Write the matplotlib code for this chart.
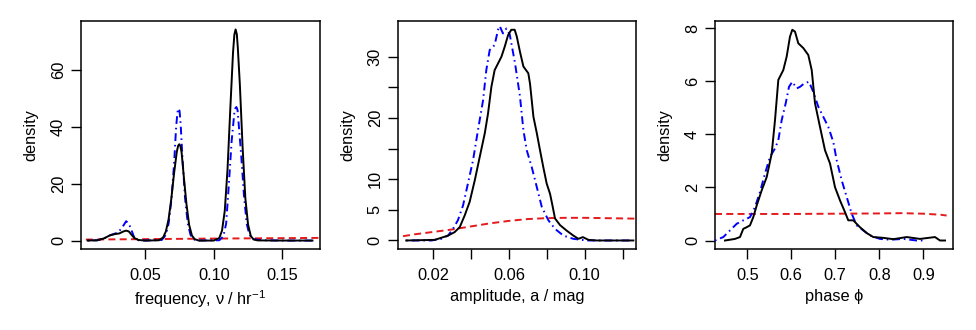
import matplotlib
matplotlib.use("Agg")
import matplotlib.pyplot as plt

plt.rcParams["font.family"] = ["Liberation Sans", "DejaVu Sans"]
plt.rcParams["mathtext.fontset"] = "custom"
plt.rcParams["mathtext.rm"] = "Liberation Sans"
plt.rcParams["mathtext.it"] = "Liberation Sans:italic"

# ---- frequency posterior densities ----
freq_black_x = [0.008, 0.015, 0.020, 0.024, 0.028, 0.031, 0.034, 0.036, 0.038, 0.040, 0.042, 0.045,
                0.050, 0.060, 0.063, 0.065, 0.067, 0.069, 0.071, 0.073, 0.0740, 0.0748, 0.0756,
                0.0765, 0.078, 0.080, 0.082, 0.084, 0.086, 0.089, 0.100, 0.104, 0.106, 0.108,
                0.110, 0.112, 0.114, 0.1150, 0.1159, 0.1168, 0.1175, 0.119, 0.121, 0.123, 0.125,
                0.127, 0.129, 0.132, 0.150, 0.172]
freq_black_y = [0.0, 0.1, 0.8, 1.8, 2.3, 2.5, 3.2, 3.5, 3.2, 2.0, 0.9, 0.2,
                0.0, 0.1, 1.1, 3.2, 7.5, 14.8, 23.7, 31.3, 33.4, 33.9, 33.3,
                31.0, 23.0, 13.0, 5.5, 1.8, 0.5, 0.0, 0.0, 0.9, 3.5, 10.5,
                25.0, 46.0, 66.0, 72.5, 74.3, 72.6, 68.0, 55.0, 33.0, 15.0, 5.6,
                1.6, 0.4, 0.05, 0.0, 0.0]

freq_blue_x = [0.008, 0.015, 0.020, 0.025, 0.030, 0.033, 0.036, 0.038, 0.040, 0.042, 0.045,
               0.050, 0.062, 0.065, 0.067, 0.069, 0.071, 0.0725, 0.0735, 0.0742, 0.0750,
               0.0758, 0.077, 0.079, 0.081, 0.083, 0.085, 0.088, 0.104, 0.107, 0.109, 0.111,
               0.113, 0.115, 0.1158, 0.1165, 0.1173, 0.118, 0.120, 0.122, 0.124, 0.126, 0.129,
               0.135, 0.150, 0.172]
freq_blue_y = [0.0, 0.1, 0.8, 2.0, 2.8, 4.5, 6.8, 6.0, 3.5, 1.0, 0.1,
               0.0, 0.2, 2.0, 6.0, 14.0, 27.0, 40.0, 45.2, 46.5, 45.6,
               41.0, 30.0, 15.0, 6.0, 2.0, 0.5, 0.0, 0.1, 1.5, 6.0, 20.0,
               35.0, 45.0, 46.6, 47.0, 46.0, 42.0, 30.0, 16.0, 6.0, 2.0, 0.5,
               0.1, 0.0, 0.0]

freq_prior_x = [0.0066, 0.05, 0.10, 0.15, 0.18]
freq_prior_y = [0.35, 0.5, 0.7, 0.85, 0.95]

# ---- amplitude posterior densities ----
amp_black_x = [0.0057, 0.0207, 0.0242, 0.0278, 0.0313, 0.034, 0.0366, 0.0392, 0.0419, 0.0445,
               0.0472, 0.0489, 0.0507, 0.0524, 0.056, 0.0577, 0.0595, 0.0612, 0.063, 0.0641,
               0.0658, 0.0676, 0.0702, 0.0711, 0.0729, 0.0747, 0.0764, 0.0781, 0.0799, 0.0817,
               0.0831, 0.0843, 0.087, 0.0905, 0.094, 0.0967, 0.099, 0.102, 0.1064, 0.1257]
amp_black_y = [0.0, 0.1, 0.44, 0.8, 1.37, 2.2, 4.1, 6.3, 9.8, 13.6,
               17.5, 20.7, 25.1, 27.8, 30.0, 31.6, 33.5, 34.4, 34.4, 33.3,
               30.8, 28.4, 27.3, 25.6, 20.2, 17.5, 14.7, 12.0, 9.3, 7.6,
               5.5, 3.6, 2.5, 1.6, 0.8, 0.27, 0.55, 0.1, 0.0, 0.0]

amp_blue_x = [0.0057, 0.019, 0.0242, 0.0278, 0.0304, 0.033, 0.0357, 0.0383, 0.041, 0.0436,
              0.0463, 0.048, 0.0498, 0.0524, 0.0542, 0.0551, 0.0568, 0.0586, 0.0604, 0.0632,
              0.0658, 0.0676, 0.0694, 0.072, 0.0747, 0.0773, 0.0808, 0.0843, 0.0887, 0.094,
              0.101, 0.1249]
amp_blue_y = [0.0, 0.0, 0.27, 0.8, 1.9, 3.3, 5.7, 9.3, 13.1, 18.0,
              22.9, 27.8, 31.1, 31.9, 34.4, 35.0, 33.8, 34.6, 33.6, 28.9,
              23.5, 18.0, 14.7, 12.0, 8.7, 5.5, 3.3, 1.9, 0.8, 0.27,
              0.0, 0.0]

amp_prior_x = [0.004, 0.01, 0.02, 0.03, 0.04, 0.05, 0.06, 0.07, 0.08, 0.09, 0.10, 0.11, 0.12, 0.13]
amp_prior_y = [0.7, 1.0, 1.4, 1.8, 2.3, 2.8, 3.2, 3.5, 3.65, 3.7, 3.7, 3.65, 3.6, 3.55]

# ---- phase posterior densities ----
ph_black_x = [0.4493, 0.472, 0.4834, 0.4909, 0.4986, 0.5061, 0.5136, 0.5214, 0.5327, 0.5441,
              0.5555, 0.563, 0.5705, 0.5818, 0.5895, 0.597, 0.6023, 0.6084, 0.6159, 0.6273,
              0.6386, 0.6464, 0.6539, 0.6652, 0.6766, 0.688, 0.6993, 0.7107, 0.722, 0.7295,
              0.7409, 0.7561, 0.7714, 0.7864, 0.809, 0.8318, 0.8623, 0.8925, 0.9266, 0.938, 0.9493]
ph_black_y = [0.0, 0.06, 0.13, 0.44, 0.5, 0.57, 0.88, 1.32, 1.89, 2.39,
              3.28, 4.54, 6.05, 6.42, 6.93, 7.68, 7.94, 7.87, 7.43, 7.25,
              6.99, 6.42, 5.17, 4.28, 3.40, 2.90, 2.01, 1.51, 1.07, 0.76,
              0.76, 0.5, 0.28, 0.13, 0.1, 0.05, 0.13, 0.06, 0.13, 0.0, 0.0]

ph_blue_x = [0.4266, 0.4455, 0.4607, 0.4759, 0.4909, 0.5061, 0.5175, 0.5289, 0.5402, 0.5516,
             0.563, 0.5705, 0.5782, 0.5873, 0.5948, 0.6023, 0.6123, 0.6198, 0.6295, 0.6402,
             0.65, 0.6614, 0.6727, 0.6841, 0.6955, 0.7032, 0.7145, 0.7259, 0.7373, 0.7486,
             0.7636, 0.7789, 0.8016, 0.8243, 0.8545, 0.885, 0.9039]
ph_blue_y = [0.0, 0.13, 0.38, 0.63, 0.76, 0.88, 1.26, 1.83, 2.52, 3.15,
             3.47, 3.78, 4.54, 5.17, 5.79, 5.98, 5.73, 5.79, 5.92, 5.98,
             5.6, 5.04, 4.66, 4.28, 3.71, 3.02, 2.27, 1.64, 1.01, 0.57,
             0.38, 0.19, 0.06, 0.03, 0.06, 0.0, 0.0]

ph_prior_x = [0.4266, 0.5, 0.6, 0.7, 0.8, 0.85, 0.9, 0.94, 0.953]
ph_prior_y = [1.0, 1.0, 1.0, 1.01, 1.02, 1.03, 1.01, 0.97, 0.94]

panels = [
    dict(black=(freq_black_x, freq_black_y), blue=(freq_blue_x, freq_blue_y),
         red=(freq_prior_x, freq_prior_y), xlim=(0.00307, 0.1775), ylim=(-2.97, 77.27),
         xticks=[0.05, 0.10, 0.15], xlabels=["0.05", "0.10", "0.15"],
         yticks=[0, 20, 40, 60], ylabels=["0", "20", "40", "60"],
         xlabel="frequency, \u03bd / hr$^{-1}$", pos=(81, 320)),
    dict(black=(amp_black_x, amp_black_y), blue=(amp_blue_x, amp_blue_y),
         red=(amp_prior_x, amp_prior_y), xlim=(0.00119, 0.1271), ylim=(-1.39, 35.83),
         xticks=[0.02, 0.04, 0.06, 0.08, 0.10, 0.12], xlabels=["0.02", "", "0.06", "", "0.10", ""],
         yticks=[0, 5, 10, 15, 20, 25, 30], ylabels=["0", "5", "10", "", "20", "", "30"],
         xlabel="amplitude, a / mag", pos=(397.7, 636)),
    dict(black=(ph_black_x, ph_black_y), blue=(ph_blue_x, ph_blue_y),
         red=(ph_prior_x, ph_prior_y), xlim=(0.4266, 0.9675), ylim=(-0.32, 8.27),
         xticks=[0.5, 0.6, 0.7, 0.8, 0.9], xlabels=["0.5", "0.6", "0.7", "0.8", "0.9"],
         yticks=[0, 2, 4, 6, 8], ylabels=["0", "2", "4", "6", "8"],
         xlabel="phase \u03d5", pos=(715, 953)),
]

W, H = 976, 330
fig = plt.figure(figsize=(W / 100, H / 100), dpi=100)
top_px, bot_px = 21, 249
fs = 11.8

for p in panels:
    x0, x1 = p["pos"]
    ax = fig.add_axes([x0 / W, 1 - bot_px / H, (x1 - x0) / W, (bot_px - top_px) / H])
    ax.plot(*p["red"], color="#e41a1c", lw=1.4, ls=(0, (3.6, 2.2)), zorder=2)
    ax.plot(*p["blue"], color="#0000ff", lw=1.4, ls=(0, (0.8, 2.0, 4.0, 2.0)), zorder=3)
    ax.plot(*p["black"], color="black", lw=1.4, zorder=4)
    ax.set_xlim(*p["xlim"])
    ax.set_ylim(*p["ylim"])
    ax.set_xticks(p["xticks"])
    ax.set_xticklabels(p["xlabels"])
    ax.set_yticks(p["yticks"])
    ax.set_yticklabels(p["ylabels"], rotation=90, va="center")
    ax.tick_params(direction="out", length=7.2, width=1.0, labelsize=fs, color="black")
    ax.tick_params(axis="x", pad=6.5)
    ax.tick_params(axis="y", pad=3.6)
    for s in ax.spines.values():
        s.set_linewidth(1.1)
    ax.set_xlabel(p["xlabel"], fontsize=fs, labelpad=4)
    ax.set_ylabel("density", fontsize=fs, labelpad=9)

fig.savefig("out.png", dpi=100)
